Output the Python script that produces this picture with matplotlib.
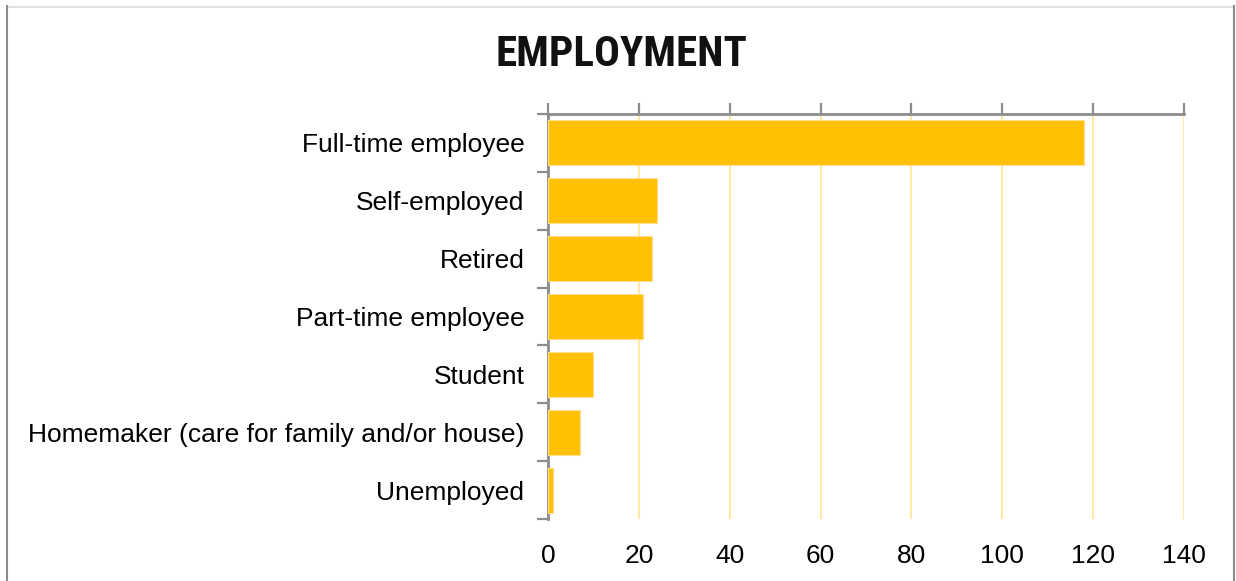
import matplotlib
matplotlib.use("Agg")
import matplotlib.pyplot as plt
from matplotlib.lines import Line2D
import numpy as np

categories = [
    "Full-time employee",
    "Self-employed",
    "Retired",
    "Part-time employee",
    "Student",
    "Homemaker (care for family and/or house)",
    "Unemployed",
]
counts = [118, 24, 23, 21, 10, 7, 1]
x_ticks = [0, 20, 40, 60, 80, 100, 120, 140]

BAR = "#FFC000"
GRID = "#FFE9A6"
AXIS = "#8C8C8C"

fig = plt.figure(figsize=(12.36, 5.81), dpi=100)
ax = fig.add_axes([548 / 1236, 1 - 519 / 581, (1184 - 548) / 1236, (519 - 114) / 581])

y = np.arange(len(categories))
ax.barh(y, counts, height=0.78, color=BAR, edgecolor="#FFE08A", linewidth=0.8, zorder=3)

ax.set_xlim(0, 140)
ax.set_ylim(len(categories) - 0.5, -0.5)
ax.set_xticks(x_ticks)
ax.set_xticklabels([str(t) for t in x_ticks], fontsize=19, family="Liberation Sans")
ax.tick_params(axis="x", top=True, bottom=False, labeltop=False, labelbottom=True,
               direction="out", length=8, width=1.6, color=AXIS, pad=10)
ax.xaxis.grid(True, color=GRID, linewidth=1.5, zorder=0)
ax.set_axisbelow(True)

ax.set_yticks(y)
ax.set_yticklabels(categories, fontsize=19, family="Liberation Sans")
ax.set_yticks(np.arange(len(categories) + 1) - 0.5, minor=True)
ax.tick_params(axis="y", which="major", length=0, pad=17)
ax.tick_params(axis="y", which="minor", length=8, width=1.6, color=AXIS, direction="out")

for side in ("bottom", "right"):
    ax.spines[side].set_visible(False)
for side in ("top", "left"):
    ax.spines[side].set_color(AXIS)
    ax.spines[side].set_linewidth(2)

fig.text(621 / 1236, 1 - 55 / 581, "EMPLOYMENT", ha="center", va="center",
         fontsize=31, fontweight="bold", color="#111111",
         family=["Roboto Condensed", "DejaVu Sans"])

# outer frame of the chart area
fig.add_artist(Line2D([7 / 1236, 1234 / 1236], [1 - 7 / 581] * 2,
                      transform=fig.transFigure, color="#D9D9D9", linewidth=1.2))
fig.add_artist(Line2D([7 / 1236] * 2, [0, 1 - 6 / 581],
                      transform=fig.transFigure, color="#8C8C8C", linewidth=1.5))
fig.add_artist(Line2D([1234 / 1236] * 2, [0, 1 - 6 / 581],
                      transform=fig.transFigure, color="#8C8C8C", linewidth=1.5))

fig.savefig("out.png", dpi=100)
